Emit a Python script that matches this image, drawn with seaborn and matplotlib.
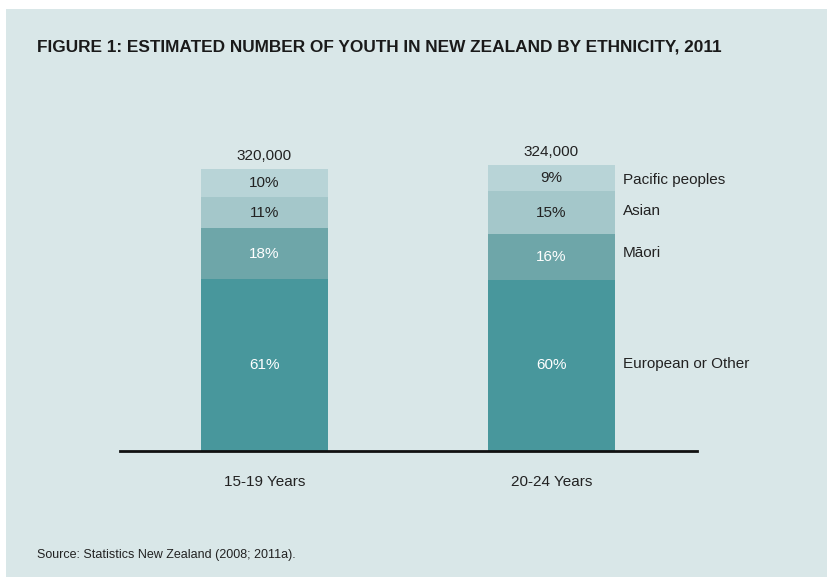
import matplotlib
matplotlib.use("Agg")
import matplotlib.pyplot as plt
import seaborn as sns
import pandas as pd
import numpy as np
from matplotlib.patches import Rectangle

sns.set_theme(style="white")
plt.rcParams['font.family'] = ['Liberation Sans', 'DejaVu Sans']

# ---- data ----
age_groups = ["15-19 Years", "20-24 Years"]
totals = [320000, 324000]
total_labels = ["320,000", "324,000"]
ethnicities = ["European or Other", "Māori", "Asian", "Pacific peoples"]  # bottom -> top
pct_1519 = [61, 18, 11, 10]
pct_2024 = [60, 16, 15, 9]
colors = ["#48979c", "#6ea6a9", "#a4c7ca", "#b8d4d7"]
text_colors = ["white", "white", "#222222", "#222222"]

W, H = 828, 577
fig = plt.figure(figsize=(W / 100, H / 100), dpi=100)
fig.patch.set_facecolor("white")
fig.patches.append(Rectangle((6 / W, 0), 1.0, (H - 9) / H, transform=fig.transFigure,
                             facecolor="#d9e7e8", edgecolor="none", zorder=-10))

# axes: x from 120 to 697 px, baseline at y=451 px (from top)
ax_left, ax_right = 120, 697
base_y = 451
top_y = 120
ax = fig.add_axes([ax_left / W, (H - base_y) / H, (ax_right - ax_left) / W, (base_y - top_y) / H])
ax.set_zorder(5)
ax.patch.set_alpha(0)

px_per_unit = (451 - 169) / totals[0]
ymax = (base_y - top_y) / px_per_unit

rows = []
pcts = [pct_1519, pct_2024]
for i, g in enumerate(age_groups):
    cum = 0
    for j, e in enumerate(ethnicities):
        val = totals[i] * pcts[i][j] / 100
        cum += val
        rows.append({"age": g, "eth": e, "cum": cum, "val": val})
df = pd.DataFrame(rows)

bar_w = 127 / 287
# draw from top layer down so lower layers overlay
for j in reversed(range(len(ethnicities))):
    sub = df[df.eth == ethnicities[j]]
    sns.barplot(data=sub, x="age", y="cum", color=colors[j], width=bar_w,
                saturation=1, ax=ax, errorbar=None, linewidth=0, zorder=2)

ax.set_xlim(-144.5 / 287, 1 + (577 - 431.5) / 287)
ax.set_ylim(0, ymax)
for s in ["top", "right", "left"]:
    ax.spines[s].set_visible(False)
ax.spines["bottom"].set_color("#111111")
ax.spines["bottom"].set_linewidth(2)
ax.set_yticks([])
ax.set_xlabel("")
ax.set_ylabel("")
ax.tick_params(axis="x", length=0, pad=17, labelsize=11, labelcolor="#222222")

# segment labels
for i, g in enumerate(age_groups):
    cum = 0
    for j, e in enumerate(ethnicities):
        val = totals[i] * pcts[i][j] / 100
        ax.text(i, cum + val / 2, f"{pcts[i][j]}%", ha="center", va="center",
                fontsize=11, color=text_colors[j])
        cum += val
    ax.text(i, totals[i] + 7000, total_labels[i], ha="center", va="bottom",
            fontsize=11, color="#222222")

# right-side legend labels next to second bar
legend_y = [364, 253, 211, 180]
for j, e in enumerate(ethnicities):
    ax.text(1 + bar_w / 2 + 8 / 287, (base_y - legend_y[j]) / px_per_unit, e,
            ha="left", va="center", fontsize=11, color="#222222")

fig.text(37 / W, 1 - 47 / H, "FIGURE 1: ESTIMATED NUMBER OF YOUTH IN NEW ZEALAND BY ETHNICITY, 2011",
         ha="left", va="center", fontsize=12.4, fontweight="bold", color="#1a1a1a")
fig.text(37 / W, 1 - 555 / H, "Source: Statistics New Zealand (2008; 2011a).",
         ha="left", va="center", fontsize=9, color="#222222")

fig.savefig("out.png", dpi=100, facecolor=fig.get_facecolor())
